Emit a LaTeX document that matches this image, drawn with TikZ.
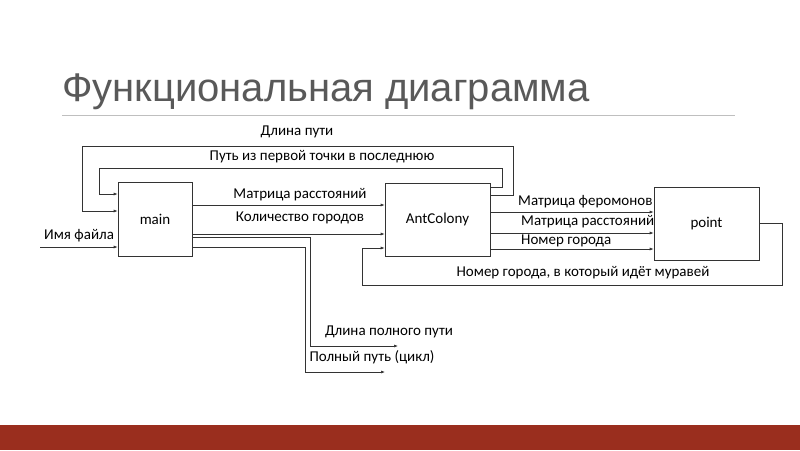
\documentclass[tikz,border=0pt]{standalone}
\usepackage{fontspec}
\setmainfont{Carlito}
\newfontfamily\titlefont{Liberation Sans}
\usetikzlibrary{arrows.meta}
\definecolor{band}{HTML}{9A2E1E}
\begin{document}
\begin{tikzpicture}[x=1pt,y=-1pt,
  blk/.style={draw=black!80,line width=0.6pt,inner sep=0pt},
  ln/.style={draw=black!80,line width=0.6pt},
  ar/.style={ln,-{Latex[length=4pt,width=3pt]}},
  lbl/.style={font=\fontsize{15}{17}\selectfont,inner sep=1pt}]
\useasboundingbox (0,0) rectangle (800,450);
\fill[white] (0,0) rectangle (800,450);
\fill[band] (0,425) rectangle (800,450);
\node[anchor=west,font=\titlefont\fontsize{40}{44}\selectfont,text=black!65,inner sep=0pt] (title) at (62,92) {Функциональная диаграмма};
\draw[black!25,line width=0.6pt] (62,115) coordinate (t1) -- (735,115) coordinate (t2);
\node[blk,minimum width=74pt,minimum height=74pt] (main) at (155,219) {};
\node[lbl] at (main.center) {main};
\node[blk,minimum width=105pt,minimum height=73pt] (ant) at (437.5,219.5) {};
\node[lbl] at (ant.center) {AntColony};
\node[blk,minimum width=105pt,minimum height=73pt] (pt) at (706.5,223.5) {};
\node[lbl] at (pt.center) {point};
% feedback loops
\draw[ar] (ant.east |- 0,195) -- (513,195) -- (513,146) -- (82,146) -- (82,211) -- (main.west |- 0,211);
\draw[ar] (ant.east |- 0,187) -- (502,187) -- (502,168) -- (99,168) -- (99,194) -- (main.west |- 0,194);
\node[lbl] at (297,132) {Длина пути};
\node[lbl] at (322,157) {Путь из первой точки в последнюю};
% main -> ant
\draw[ar] (main.east |- 0,205) -- (ant.west |- 0,205);
\node[lbl] at (300,195) {Матрица расстояний};
\draw[ar] (main.east |- 0,234) -- (ant.west |- 0,234);
\node[lbl] at (300,218) {Количество городов};
\coordinate (in) at (40,247);
\draw[ar] (in) -- (main.west |- 0,247);
\node[lbl,anchor=south west] at (43,243) {Имя файла};
% outputs
\coordinate (o1) at (398,346);
\coordinate (o2) at (385,372);
\draw[ar] (main.east |- 0,237) -- (310,237) -- (310,346) -- (o1);
\draw[ar] (main.east |- 0,247) -- (305,247) -- (305,372) -- (o2);
\node[lbl] at (389,332) {Длина полного пути};
\node[lbl] at (372,357) {Полный путь (цикл)};
% ant -> point
\draw[ar] (ant.east |- 0,212) -- (pt.west |- 0,212);
\draw[ar] (ant.east |- 0,233) -- (pt.west |- 0,233);
\draw[ar] (ant.east |- 0,249) -- (pt.west |- 0,249);
\node[lbl,anchor=west] at (517,202) {Матрица феромонов};
\node[lbl,anchor=west] at (520,222) {Матрица расстояний};
\node[lbl,anchor=west] at (520,241) {Номер города};
% point -> ant
\draw[ar] (pt.east |- 0,223) -- (782,223) -- (782,285) -- (362,285) -- (362,248) -- (ant.west |- 0,248);
\node[lbl] at (583,273) {Номер города, в который идёт муравей};
\end{tikzpicture}
\end{document}
